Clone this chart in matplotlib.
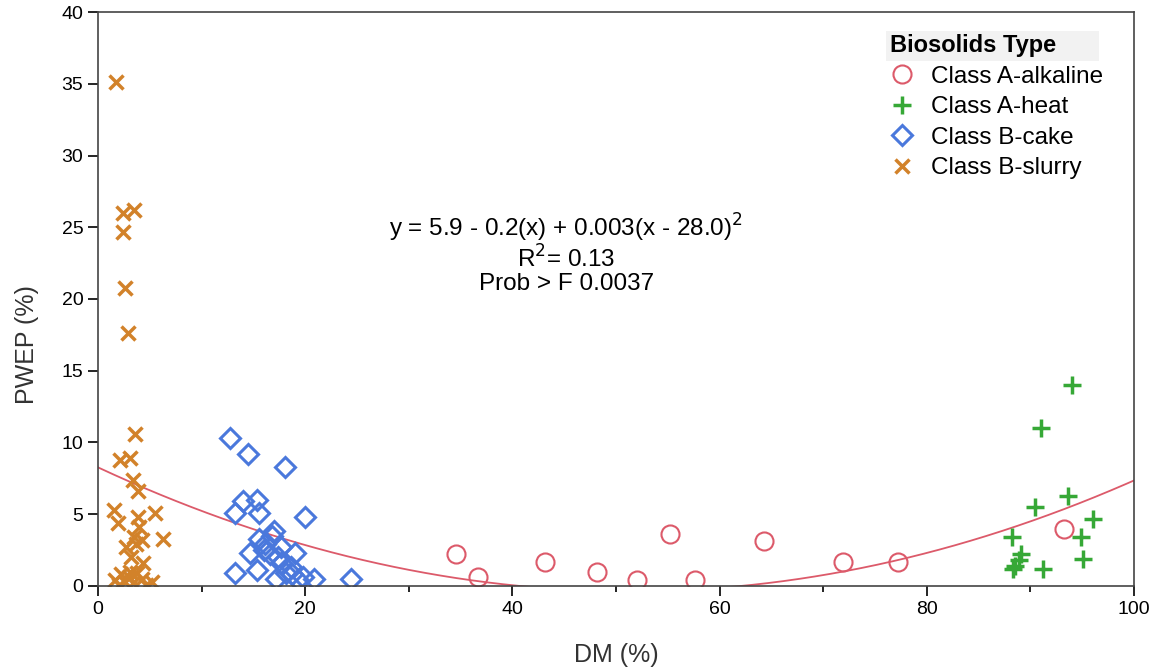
import numpy as np
import matplotlib.pyplot as plt
from matplotlib.ticker import MultipleLocator

plt.rcParams['font.family'] = ['Liberation Sans', 'DejaVu Sans']

# Dry matter (%) and PWEP (%) by biosolids type
alk_dm = [34.6, 36.7, 43.1, 48.2, 52.0, 55.2, 57.6, 64.3, 71.9, 77.2, 93.2]
alk_pwep = [2.2, 0.6, 1.7, 1.0, 0.4, 3.6, 0.4, 3.1, 1.7, 1.7, 4.0]

heat_dm = [94.0, 91.0, 93.6, 90.4, 88.2, 96.0, 94.9, 95.1, 89.1, 88.9, 88.5, 88.3, 91.2]
heat_pwep = [14.0, 11.0, 6.3, 5.5, 3.4, 4.7, 3.4, 1.9, 2.2, 1.8, 1.4, 1.2, 1.2]

cake_dm = [12.7, 14.5, 18.0, 14.0, 15.3, 13.2, 15.5, 20.0, 17.0, 15.5, 16.1, 14.7,
           17.7, 19.0, 16.6, 13.2, 15.3, 17.7, 18.1, 18.7, 19.8, 20.8, 17.2, 24.4,
           16.0, 17.4, 18.6, 19.3, 16.8]
cake_pwep = [10.3, 9.2, 8.3, 5.9, 6.0, 5.1, 5.1, 4.8, 3.8, 3.3, 2.9, 2.3,
             2.7, 2.3, 2.2, 0.9, 1.1, 1.6, 0.9, 0.8, 0.6, 0.5, 0.5, 0.5,
             2.5, 2.0, 1.3, 0.4, 3.5]

slurry_dm = [1.7, 2.4, 3.5, 2.4, 2.6, 2.9, 3.6, 2.1, 3.1, 3.4, 3.9, 1.5, 1.9,
             3.9, 5.5, 6.3, 4.0, 3.5, 4.2, 2.7, 3.7, 4.3, 3.2,
             1.6, 2.2, 2.6, 3.0, 3.4, 3.8, 4.2, 4.6, 5.2, 2.0, 3.1]
slurry_pwep = [35.1, 26.0, 26.2, 24.7, 20.8, 17.6, 10.6, 8.8, 8.9, 7.4, 6.6, 5.3, 4.4,
               4.8, 5.1, 3.3, 4.1, 3.4, 3.2, 2.7, 2.9, 1.6, 2.0,
               0.4, 0.8, 0.3, 0.6, 0.2, 0.9, 0.5, 0.1, 0.3, 0.1, 1.0]

# quadratic fit, centred on mean DM
b0, b1, b2, xc = 5.7, -0.153, 0.00327, 28.0

red = '#dc5a6a'
green = '#36a836'
blue = '#4a78dc'
orange = '#d2822a'

fig = plt.figure(figsize=(11.59, 6.68), dpi=100)
ax = fig.add_axes([0.0846, 0.1228, 0.8938, 0.8592])

xf = np.linspace(0, 100, 400)
ax.plot(xf, b0 + b1 * xf + b2 * (xf - xc) ** 2, color=red, lw=1.3, zorder=1)

ax.plot(alk_dm, alk_pwep, 'o', ms=13, mfc='none', mec=red, mew=1.5,
        label='Class A-alkaline', ls='none')
ax.plot(heat_dm, heat_pwep, '+', ms=13, mec=green, mew=2.5,
        label='Class A-heat', ls='none')
ax.plot(cake_dm, cake_pwep, 'D', ms=10, mfc='none', mec=blue, mew=2.2,
        label='Class B-cake', ls='none')
ax.plot(slurry_dm, slurry_pwep, 'x', ms=10, mec=orange, mew=2.5,
        label='Class B-slurry', ls='none')

ax.set_xlim(0, 100)
ax.set_ylim(0, 40)
ax.xaxis.set_major_locator(MultipleLocator(20))
ax.xaxis.set_minor_locator(MultipleLocator(10))
ax.yaxis.set_major_locator(MultipleLocator(5))
ax.tick_params(axis='both', which='major', length=7, width=1.2, labelsize=14)
ax.tick_params(axis='x', which='minor', length=4, width=1.2)
for s in ax.spines.values():
    s.set_linewidth(1.2)
    s.set_color('#444444')

ax.set_xlabel('DM (%)', fontsize=18, color='#333333', labelpad=18)
ax.set_ylabel('PWEP (%)', fontsize=18, color='#333333')
ax.yaxis.set_label_coords(-0.057, 0.42)

ax.text(0.452, 0.579, r'y = 5.9 - 0.2(x) + 0.003(x - 28.0)$^2$'
        '\n' r'R$^2$= 0.13' '\nProb > F 0.0037',
        transform=ax.transAxes, ha='center', va='center', fontsize=17.5,
        linespacing=1.05, math_fontfamily='dejavusans')

leg = ax.legend(loc='upper left', bbox_to_anchor=(0.750, 0.987),
                title='Biosolids Type      ', frameon=False, fontsize=17.5,
                title_fontsize=17, handlelength=1.0, handletextpad=0.7,
                labelspacing=0.35, borderaxespad=0.2, alignment='left')
leg.get_title().set_fontweight('bold')
leg.get_title().set_bbox(dict(facecolor='#f2f2f2', edgecolor='none',
                              boxstyle='square,pad=0.15'))

fig.savefig('out.png', dpi=100)
